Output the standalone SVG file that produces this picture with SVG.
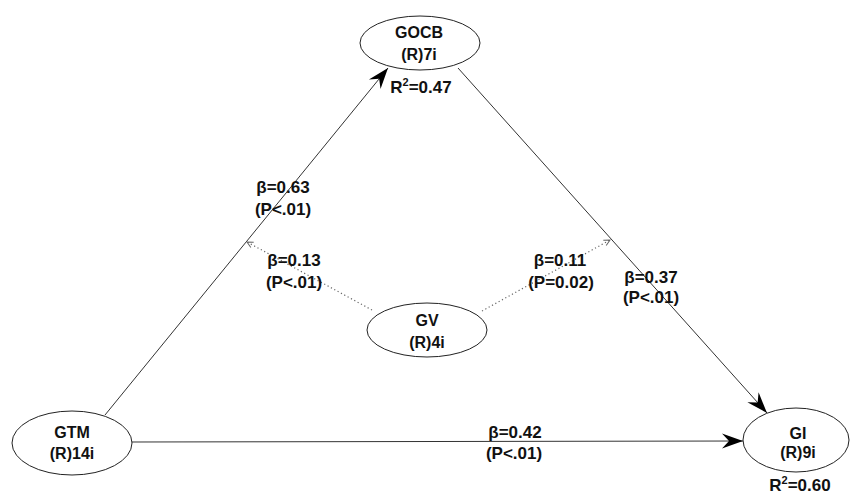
<svg xmlns="http://www.w3.org/2000/svg" width="853" height="498" viewBox="0 0 853 498">
<style>
.node ellipse{fill:#fff;stroke:#222;stroke-width:1}
text{font-family:"Liberation Sans",Arial,sans-serif;font-weight:bold;fill:#111;text-anchor:middle}
.nt{font-size:16px}
.lb{font-size:17px}
.solid{stroke:#333;stroke-width:1;fill:none}
.dot{stroke:#666;stroke-width:1.2;fill:none;stroke-dasharray:1.2 2.6}
</style>
<defs>
<marker id="big" markerUnits="userSpaceOnUse" markerWidth="24" markerHeight="18" viewBox="-22 -9 24 18" refX="0" refY="0" orient="auto">
<path d="M0,0 L-21,-7.5 L-14,0 L-21,7.5 Z" fill="#000"/>
</marker>
<marker id="small" markerUnits="userSpaceOnUse" markerWidth="10" markerHeight="10" viewBox="-8 -5 10 10" refX="0" refY="0" orient="auto">
<path d="M-6,-3 L0,0 L-6,3" fill="none" stroke="#666" stroke-width="1"/>
</marker>
</defs>
<rect width="853" height="498" fill="#fff"/>
<g id="connectors">
<line class="solid" x1="105" y1="415" x2="388" y2="68" marker-end="url(#big)"/>
<line class="solid" x1="458" y1="68" x2="767" y2="413" marker-end="url(#big)"/>
<line class="solid" x1="132" y1="442" x2="743" y2="441" marker-end="url(#big)"/>
<line class="dot" x1="372" y1="310" x2="247" y2="242" marker-end="url(#small)"/>
<line class="dot" x1="482" y1="311" x2="610" y2="240" marker-end="url(#small)"/>
</g>
<g id="labels">
<text class="lb" x="283" y="193">β=0.63</text>
<text class="lb" x="283" y="215">(P&lt;.01)</text>
<text class="lb" x="294" y="266">β=0.13</text>
<text class="lb" x="294" y="288">(P&lt;.01)</text>
<text class="lb" x="560" y="266">β=0.11</text>
<text class="lb" x="561" y="288">(P=0.02)</text>
<text class="lb" x="651" y="283">β=0.37</text>
<text class="lb" x="651" y="303">(P&lt;.01)</text>
<text class="lb" x="515" y="438">β=0.42</text>
<text class="lb" x="514" y="459">(P&lt;.01)</text>
</g>
<g id="GOCB" class="node">
<ellipse cx="420" cy="43" rx="60" ry="27"/>
<text class="nt" x="419" y="38">GOCB</text>
<text class="nt" x="419" y="60">(R)7i</text>
<text class="lb" x="421" y="93">R<tspan font-size="11" dy="-7">2</tspan><tspan dy="7">=0.47</tspan></text>
</g>
<g id="GTM" class="node">
<ellipse cx="72" cy="443" rx="60" ry="32"/>
<text class="nt" x="72" y="438">GTM</text>
<text class="nt" x="72" y="459">(R)14i</text>
</g>
<g id="GV" class="node">
<ellipse cx="427" cy="330" rx="60" ry="27"/>
<text class="nt" x="427" y="326">GV</text>
<text class="nt" x="427" y="348">(R)4i</text>
</g>
<g id="GI" class="node">
<ellipse cx="796" cy="440" rx="53" ry="32"/>
<text class="nt" x="798" y="439">GI</text>
<text class="nt" x="798" y="458">(R)9i</text>
<text class="lb" x="800" y="491">R<tspan font-size="11" dy="-7">2</tspan><tspan dy="7">=0.60</tspan></text>
</g>
</svg>
